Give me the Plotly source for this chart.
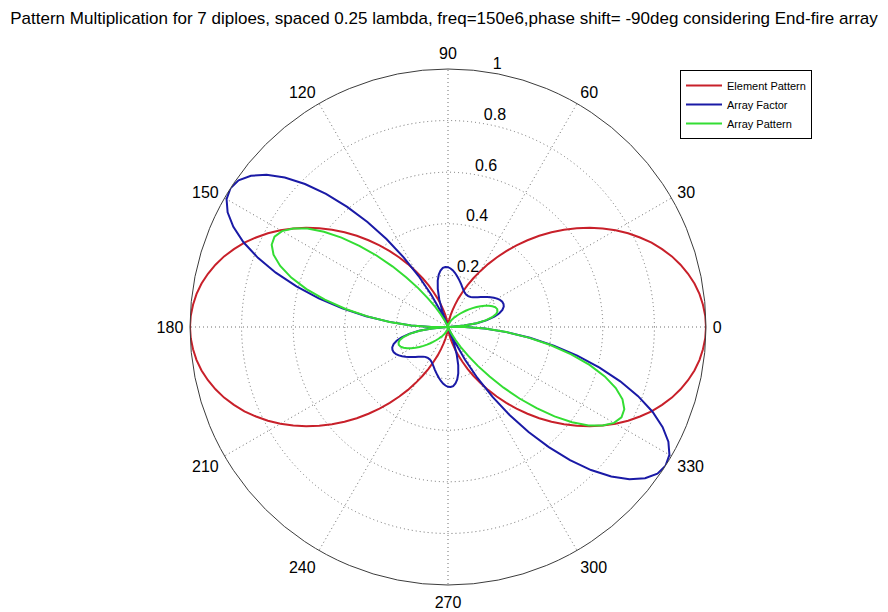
import numpy as np
import plotly.graph_objects as go

# Sample angles (degrees), 2.5-degree steps round the full circle
theta_deg = np.arange(0, 360.01, 2.5)

# Element Pattern (red)
element_pattern = [
    1.000, 0.998, 0.992, 0.983, 0.970, 0.953, 0.933, 0.910, 0.883, 0.854, 0.821, 0.787,
    0.750, 0.711, 0.671, 0.629, 0.587, 0.544, 0.500, 0.456, 0.413, 0.371, 0.329, 0.289,
    0.250, 0.213, 0.179, 0.146, 0.117, 0.090, 0.067, 0.047, 0.030, 0.017, 0.008, 0.002,
    0.000, 0.002, 0.008, 0.017, 0.030, 0.047, 0.067, 0.090, 0.117, 0.146, 0.179, 0.213,
    0.250, 0.289, 0.329, 0.371, 0.413, 0.456, 0.500, 0.544, 0.587, 0.629, 0.671, 0.711,
    0.750, 0.787, 0.821, 0.854, 0.883, 0.910, 0.933, 0.953, 0.970, 0.983, 0.992, 0.998,
    1.000, 0.998, 0.992, 0.983, 0.970, 0.953, 0.933, 0.910, 0.883, 0.854, 0.821, 0.787,
    0.750, 0.711, 0.671, 0.629, 0.587, 0.544, 0.500, 0.456, 0.413, 0.371, 0.329, 0.289,
    0.250, 0.213, 0.179, 0.146, 0.117, 0.090, 0.067, 0.047, 0.030, 0.017, 0.008, 0.002,
    0.000, 0.002, 0.008, 0.017, 0.030, 0.047, 0.067, 0.090, 0.117, 0.146, 0.179, 0.213,
    0.250, 0.289, 0.329, 0.371, 0.413, 0.456, 0.500, 0.544, 0.587, 0.629, 0.671, 0.711,
    0.750, 0.787, 0.821, 0.854, 0.883, 0.910, 0.933, 0.953, 0.970, 0.983, 0.992, 0.998,
    1.000,
]

# Array Factor (blue)
array_factor = [
    0.065, 0.004, 0.063, 0.113, 0.153, 0.184, 0.206, 0.221, 0.230, 0.233, 0.232, 0.227,
    0.220, 0.211, 0.201, 0.191, 0.181, 0.172, 0.163, 0.156, 0.150, 0.146, 0.144, 0.143,
    0.144, 0.146, 0.150, 0.156, 0.163, 0.172, 0.181, 0.191, 0.201, 0.211, 0.220, 0.227,
    0.232, 0.233, 0.230, 0.221, 0.206, 0.184, 0.153, 0.113, 0.063, 0.004, 0.065, 0.143,
    0.228, 0.320, 0.416, 0.513, 0.608, 0.700, 0.784, 0.858, 0.918, 0.963, 0.991, 1.000,
    0.991, 0.963, 0.918, 0.858, 0.784, 0.700, 0.608, 0.513, 0.416, 0.320, 0.228, 0.143,
    0.065, 0.004, 0.063, 0.113, 0.153, 0.184, 0.206, 0.221, 0.230, 0.233, 0.232, 0.227,
    0.220, 0.211, 0.201, 0.191, 0.181, 0.172, 0.163, 0.156, 0.150, 0.146, 0.144, 0.143,
    0.144, 0.146, 0.150, 0.156, 0.163, 0.172, 0.181, 0.191, 0.201, 0.211, 0.220, 0.227,
    0.232, 0.233, 0.230, 0.221, 0.206, 0.184, 0.153, 0.113, 0.063, 0.004, 0.065, 0.143,
    0.228, 0.320, 0.416, 0.513, 0.608, 0.700, 0.784, 0.858, 0.918, 0.963, 0.991, 1.000,
    0.991, 0.963, 0.918, 0.858, 0.784, 0.700, 0.608, 0.513, 0.416, 0.320, 0.228, 0.143,
    0.065,
]

# Array Pattern (green)
array_pattern = [
    0.065, 0.004, 0.063, 0.111, 0.148, 0.175, 0.193, 0.201, 0.203, 0.199, 0.190, 0.179,
    0.165, 0.150, 0.135, 0.120, 0.106, 0.093, 0.082, 0.071, 0.062, 0.054, 0.047, 0.041,
    0.036, 0.031, 0.027, 0.023, 0.019, 0.016, 0.012, 0.009, 0.006, 0.004, 0.002, 0.000,
    0.000, 0.000, 0.002, 0.004, 0.006, 0.009, 0.010, 0.010, 0.007, 0.001, 0.012, 0.030,
    0.057, 0.092, 0.137, 0.190, 0.251, 0.319, 0.392, 0.466, 0.539, 0.606, 0.665, 0.711,
    0.743, 0.758, 0.754, 0.732, 0.692, 0.637, 0.568, 0.489, 0.403, 0.315, 0.227, 0.143,
    0.065, 0.004, 0.063, 0.111, 0.148, 0.175, 0.193, 0.201, 0.203, 0.199, 0.190, 0.179,
    0.165, 0.150, 0.135, 0.120, 0.106, 0.093, 0.082, 0.071, 0.062, 0.054, 0.047, 0.041,
    0.036, 0.031, 0.027, 0.023, 0.019, 0.016, 0.012, 0.009, 0.006, 0.004, 0.002, 0.000,
    0.000, 0.000, 0.002, 0.004, 0.006, 0.009, 0.010, 0.010, 0.007, 0.001, 0.012, 0.030,
    0.057, 0.092, 0.137, 0.190, 0.251, 0.319, 0.392, 0.466, 0.539, 0.606, 0.665, 0.711,
    0.743, 0.758, 0.754, 0.732, 0.692, 0.637, 0.568, 0.489, 0.403, 0.315, 0.227, 0.143,
    0.065,
]

angle_ticks = [0, 30, 60, 90, 120, 150, 180, 210, 240, 270, 300, 330]
angle_labels = [str(a) for a in angle_ticks]
radial_ticks = [0.2, 0.4, 0.6, 0.8, 1.0]
radial_labels = ["0.2", "0.4", "0.6", "0.8", "1"]
radial_label_angle = 80  # direction along which the radius labels sit

series = [
    ("Element Pattern", element_pattern, "#C8202A"),
    ("Array Factor", array_factor, "#1A1AA6"),
    ("Array Pattern", array_pattern, "#33DD33"),
]

FONT = "Liberation Sans, Arial, sans-serif"
grid_col = "rgb(110,110,110)"

fig = go.Figure()
for name, vals, col in series:
    fig.add_trace(go.Scatterpolar(
        r=vals, theta=theta_deg, mode="lines", name=name,
        line=dict(color=col, width=2), hoverinfo="skip",
    ))

# radius labels, placed through the polar scale just above each grid circle
fig.add_trace(go.Scatterpolar(
    r=radial_ticks, theta=[radial_label_angle] * len(radial_ticks),
    mode="text", text=radial_labels, textposition="top right",
    textfont=dict(family=FONT, size=16, color="black"),
    showlegend=False, hoverinfo="skip", cliponaxis=False,
))

# polar area: centre (448, 327) px, radius 258 px
cx, cy, R, W, H = 448, 327, 258, 888, 612

fig.update_layout(
    width=W, height=H,
    margin=dict(l=0, r=0, t=0, b=0),
    paper_bgcolor="white",
    font=dict(family=FONT, color="black", size=16),
    title=dict(
        text="Pattern Multiplication for 7 diploes, spaced 0.25 lambda, freq=150e6,phase shift= -90deg considering End-fire array",
        x=0.5, xanchor="center", y=1 - 18 / H, yanchor="middle",
        font=dict(family=FONT, size=17, color="black"),
    ),
    polar=dict(
        domain=dict(x=[(cx - R) / W, (cx + R) / W],
                    y=[(H - cy - R) / H, (H - cy + R) / H]),
        bgcolor="white",
        radialaxis=dict(
            range=[0, 1], tickmode="array", tickvals=radial_ticks,
            angle=radial_label_angle, showticklabels=False, showline=False, ticks="",
            showgrid=True, gridcolor=grid_col, gridwidth=1, griddash="1px,3px",
        ),
        angularaxis=dict(
            rotation=0, direction="counterclockwise",
            tickmode="array", tickvals=angle_ticks, ticktext=angle_labels,
            showline=True, linecolor="rgb(60,60,60)", linewidth=1,
            ticks="outside", ticklen=3, tickcolor="rgba(0,0,0,0)",
            showgrid=True, gridcolor=grid_col, gridwidth=1, griddash="1px,3px",
            tickfont=dict(family=FONT, size=16, color="black"),
        ),
    ),
    showlegend=True,
    legend=dict(
        x=680 / W, y=1 - 70 / H, xanchor="left", yanchor="top",
        bgcolor="white", bordercolor="black", borderwidth=1,
        font=dict(family=FONT, size=11, color="black"),
        tracegroupgap=0, itemwidth=36,
    ),
)

fig.write_html(
    "out.html",
    config={"displayModeBar": False},
    post_script="document.body.style.margin='0';document.body.style.overflow='hidden';",
)
